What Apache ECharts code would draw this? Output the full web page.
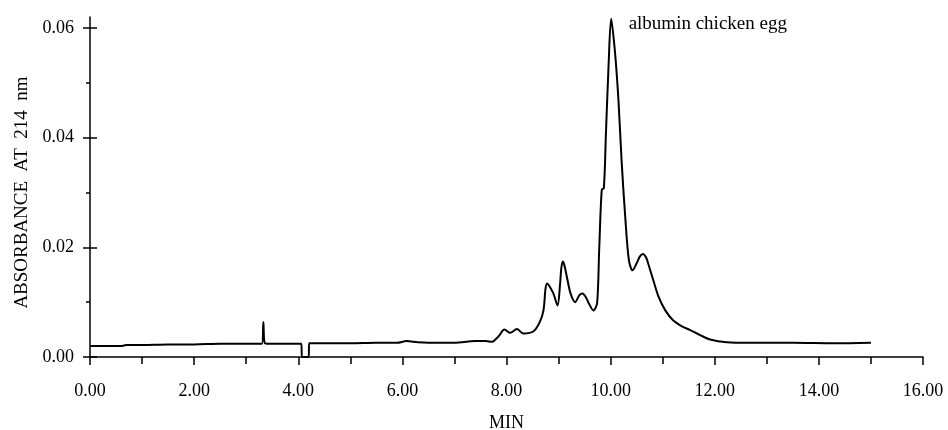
<!DOCTYPE html>
<html>
<head>
<meta charset="utf-8">
<script src="https://cdn.jsdelivr.net/npm/echarts@6/dist/echarts.min.js"></script>
<style>html,body{margin:0;padding:0;background:#fff}#c{width:948px;height:430px}</style>
</head>
<body>
<div id="c"></div>
<script>
// Retention time (min)
var timeMin = [0.00,0.30,0.60,0.70,1.00,1.50,2.00,2.50,3.00,3.30,3.33,3.36,3.50,3.80,4.06,4.07,4.20,4.21,4.50,5.00,5.50,5.90,6.08,6.30,6.70,7.00,7.40,7.60,7.72,7.85,7.96,8.07,8.20,8.32,8.52,8.64,8.71,8.75,8.78,8.82,8.90,8.98,9.03,9.05,9.08,9.11,9.16,9.23,9.32,9.40,9.46,9.52,9.57,9.67,9.74,9.78,9.83,9.87,9.91,9.96,10.01,10.08,10.15,10.21,10.28,10.35,10.42,10.50,10.56,10.62,10.68,10.72,10.82,10.92,11.05,11.20,11.37,11.53,11.72,11.91,12.23,12.68,13.50,14.30,15.00];
// Absorbance at 214 nm
var absorbance = [0.0020,0.0020,0.0020,0.0022,0.0022,0.0023,0.0023,0.0024,0.0024,0.0024,0.0064,0.0025,0.0024,0.0024,0.0024,0.0000,0.0000,0.0025,0.0025,0.0025,0.0026,0.0026,0.0029,0.0027,0.0026,0.0026,0.0029,0.0029,0.0028,0.0038,0.0050,0.0044,0.0051,0.0043,0.0047,0.0064,0.0085,0.0125,0.0134,0.0130,0.0116,0.0094,0.0134,0.0160,0.0174,0.0168,0.0146,0.0116,0.0100,0.0113,0.0116,0.0110,0.0100,0.0085,0.0098,0.0195,0.0305,0.0308,0.0408,0.0530,0.0617,0.0560,0.0469,0.0359,0.0256,0.0177,0.0158,0.0171,0.0183,0.0188,0.0182,0.0171,0.0140,0.0110,0.0085,0.0067,0.0056,0.0049,0.0040,0.0032,0.0027,0.0026,0.0026,0.0025,0.0026];
var peakLabel = 'albumin chicken egg';
var peakIndex = 60;
var xName = 'MIN';
var yName = 'ABSORBANCE  AT  214  nm';
var Y_MAX = 0.06;

var FONT = 'Liberation Serif';
var pairs = timeMin.map(function (t, i) { return [t, absorbance[i]]; });
// anchor of the peak annotation, kept inside the axis range so it is not filtered out
var labelAnchor = [timeMin[peakIndex], Math.min(absorbance[peakIndex], Y_MAX * 0.999)];

var chart = echarts.init(document.getElementById('c'), null, {renderer: 'canvas'});
var blackLine = {color: '#000', width: 1.5};
chart.setOption({
  animation: false,
  backgroundColor: '#ffffff',
  grid: [
    {left: 90, right: 25, top: 28, bottom: 73, containLabel: false, outerBoundsMode: 'none'},
    {left: 90, right: 25, top: 17, bottom: 73, containLabel: false, outerBoundsMode: 'none'}
  ],
  xAxis: [{
    gridIndex: 0,
    type: 'value', min: 0, max: 16, interval: 2,
    name: xName, nameLocation: 'middle', nameGap: 57,
    nameTextStyle: {fontFamily: FONT, fontSize: 18, color: '#000'},
    axisLine: {show: true, lineStyle: blackLine},
    axisTick: {show: true, inside: false, length: 8, lineStyle: blackLine},
    minorTick: {show: true, splitNumber: 2, length: 7, lineStyle: blackLine},
    axisLabel: {margin: 25, fontFamily: FONT, fontSize: 18, color: '#000',
      formatter: function (v) { return v.toFixed(2); }},
    splitLine: {show: false}
  }, {
    gridIndex: 1, type: 'value', min: 0, max: 16, show: false
  }],
  yAxis: [{
    gridIndex: 0,
    type: 'value', min: 0, max: Y_MAX, interval: 0.02,
    name: yName, nameLocation: 'middle', nameGap: 57, nameRotate: 90,
    nameTextStyle: {fontFamily: FONT, fontSize: 19, color: '#000'},
    axisLine: {show: false},
    axisTick: {show: true, inside: false, length: 7, lineStyle: blackLine},
    minorTick: {show: true, splitNumber: 2, length: 4, lineStyle: blackLine},
    axisLabel: {margin: 16, fontFamily: FONT, fontSize: 18, color: '#000',
      formatter: function (v) { return v.toFixed(2); }},
    splitLine: {show: false}
  }, {
    gridIndex: 0,
    type: 'value', min: 0, max: Y_MAX, interval: 0.02, position: 'left', offset: 0,
    axisLine: {show: false},
    axisTick: {show: true, inside: true, length: 7, lineStyle: blackLine},
    axisLabel: {show: false}, splitLine: {show: false}
  }, {
    gridIndex: 1,
    type: 'value', min: 0, max: 0.062, position: 'left', offset: 0,
    axisLine: {show: true, lineStyle: blackLine},
    axisTick: {show: false}, axisLabel: {show: false}, splitLine: {show: false}
  }],
  series: [{
    type: 'line',
    xAxisIndex: 0,
    yAxisIndex: 0,
    data: pairs,
    showSymbol: false,
    smooth: 0.3,
    clip: false,
    lineStyle: {color: '#000', width: 2},
    markPoint: {
      symbol: 'circle', symbolSize: 1,
      itemStyle: {color: 'rgba(0,0,0,0)'},
      label: {show: true, position: 'right', distance: 17, offset: [0, -4],
        formatter: peakLabel, fontFamily: FONT, fontSize: 19, color: '#000'},
      data: [{coord: labelAnchor}]
    }
  }]
});
</script>
</body>
</html>
